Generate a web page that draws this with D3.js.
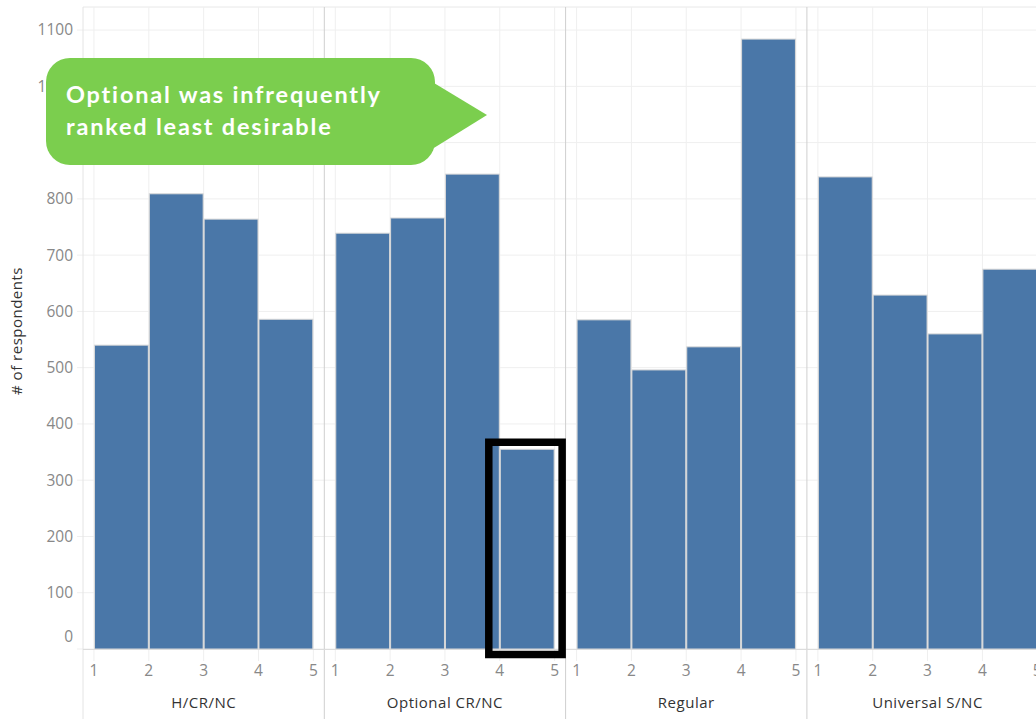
<!DOCTYPE html>
<html>
<head>
<meta charset="utf-8">
<script src="https://cdn.jsdelivr.net/npm/d3@7"></script>
<style>
    body { margin: 0; background: #fff; }
    svg { display: block; }
</style>
</head>
<body>
<div id="chart"></div>
<script>
// grading schemes and their rank histograms (bins start at rank)
const schemes = ["H/CR/NC", "Optional CR/NC", "Regular", "Universal S/NC"];
const binStarts = [1, 2, 3, 4];
const hcrnc = [540, 809, 764, 586];
const optional = [739, 766, 844, 355];
const regular = [585, 496, 537, 1084];
const universal = [839, 629, 560, 675];
const yTicks = [0, 100, 200, 300, 400, 500, 600, 700, 800, 900, 1000, 1100];
const xTicks = [1, 2, 3, 4, 5];
const calloutLines = ["Optional was infrequently", "ranked least desirable"];

const series = [hcrnc, optional, regular, universal];

const width = 1036, height = 719;
const pane = {left: 83, top: 7, bottom: 649};
const panelW = 241.3;

const svg = d3.select("#chart").append("svg")
    .attr("width", width)
    .attr("height", height);

// y scale shared across panels
const y = d3.scaleLinear()
    .domain([0, 1141])
    .range([pane.bottom, pane.top]);

// horizontal gridlines
svg.append("g").selectAll("line")
    .data(yTicks)
    .join("line")
    .attr("x1", 77)
    .attr("x2", width)
    .attr("y1", d => y(d))
    .attr("y2", d => y(d))
    .attr("stroke", "#efefef")
    .attr("stroke-width", 1);

// top border
svg.append("line")
    .attr("x1", pane.left).attr("x2", width)
    .attr("y1", pane.top).attr("y2", pane.top)
    .attr("stroke", "#e8e8e8");

// y axis labels
svg.append("g").selectAll("text")
    .data(yTicks)
    .join("text")
    .attr("x", 73)
    .attr("y", d => d === 0 ? y(d) - 12 : y(d))
    .attr("dy", "0.35em")
    .attr("text-anchor", "end")
    .attr("font-family", "Open Sans, sans-serif")
    .attr("font-size", "15.5px")
    .attr("fill", "#888")
    .text(d => d);

svg.append("text")
    .attr("transform", "translate(22, 331) rotate(-90)")
    .attr("text-anchor", "middle")
    .attr("font-family", "Open Sans, sans-serif")
    .attr("font-size", "15px")
    .attr("letter-spacing", "0.5px")
    .attr("fill", "#333")
    .text("# of respondents");

let xScales = [];

schemes.forEach((name, i) => {
    let left = pane.left + i * panelW;
    let x = d3.scaleLinear()
        .domain([0.8, 5.2])
        .range([left, left + panelW]);
    xScales.push(x);

    let g = svg.append("g").attr("class", "panel");

    // vertical gridlines + ticks
    g.selectAll("line.vgrid")
        .data(xTicks)
        .join("line")
        .attr("class", "vgrid")
        .attr("x1", d => x(d))
        .attr("x2", d => x(d))
        .attr("y1", pane.top)
        .attr("y2", pane.bottom + 12)
        .attr("stroke", "#efefef");

    // bars
    g.selectAll("rect")
        .data(binStarts.map((b, j) => ({bin: b, value: series[i][j]})))
        .join("rect")
        .attr("x", d => x(d.bin) + 0.5)
        .attr("width", d => x(d.bin + 1) - x(d.bin) - 1)
        .attr("y", d => y(d.value))
        .attr("height", d => y(0) - y(d.value))
        .attr("fill", "#4a77a8")
        .attr("stroke", "#d8d8d8")
        .attr("stroke-width", 1);

    // x tick labels
    g.selectAll("text.tick")
        .data(xTicks)
        .join("text")
        .attr("class", "tick")
        .attr("x", d => x(d))
        .attr("y", 671)
        .attr("dy", "0.35em")
        .attr("text-anchor", "middle")
        .attr("font-family", "Open Sans, sans-serif")
        .attr("font-size", "15.5px")
        .attr("fill", "#888")
        .text(d => d);

    // header label
    g.append("text")
        .attr("x", left + panelW / 2)
        .attr("y", 703)
        .attr("dy", "0.35em")
        .attr("text-anchor", "middle")
        .attr("font-family", "Open Sans, sans-serif")
        .attr("font-size", "15px")
        .attr("letter-spacing", "0.5px")
        .attr("fill", "#333")
        .text(name);

    // panel separator
    g.append("line")
        .attr("x1", left).attr("x2", left)
        .attr("y1", pane.top).attr("y2", height)
        .attr("stroke", i === 0 ? "#e4e4e4" : "#cfcfcf")
        .attr("stroke-width", 1);
});

// x axis baseline
svg.append("line")
    .attr("x1", pane.left).attr("x2", width)
    .attr("y1", pane.bottom + 0.5).attr("y2", pane.bottom + 0.5)
    .attr("stroke", "#dcdcdc");

// highlight box around Optional rank 4 bar
let hx = xScales[1], hv = optional[3];
svg.append("rect")
    .attr("x", hx(4) - 11)
    .attr("y", y(hv) - 7)
    .attr("width", hx(5) - hx(4) + 18.5)
    .attr("height", y(0) - y(hv) + 12.5)
    .attr("fill", "none")
    .attr("stroke", "#000")
    .attr("stroke-width", 7.5);

// callout
let c = {x: 46, y: 58, w: 389, h: 107, r: 24};
let callout = svg.append("g");
callout.append("rect")
    .attr("x", c.x).attr("y", c.y)
    .attr("width", c.w).attr("height", c.h)
    .attr("rx", c.r)
    .attr("fill", "#7bce4e");
callout.append("path")
    .attr("d", `M${c.x + c.w - 6},80 L487,115 L${c.x + c.w - 6},151 Z`)
    .attr("fill", "#7bce4e");
callout.selectAll("text")
    .data(calloutLines)
    .join("text")
    .attr("x", 66)
    .attr("y", (d, i) => 103 + i * 32)
    .attr("font-family", "Lato, sans-serif")
    .attr("font-weight", "bold")
    .attr("font-size", "23.5px")
    .attr("letter-spacing", "1.8px")
    .attr("fill", "#fff")
    .text(d => d);
</script>
</body>
</html>
